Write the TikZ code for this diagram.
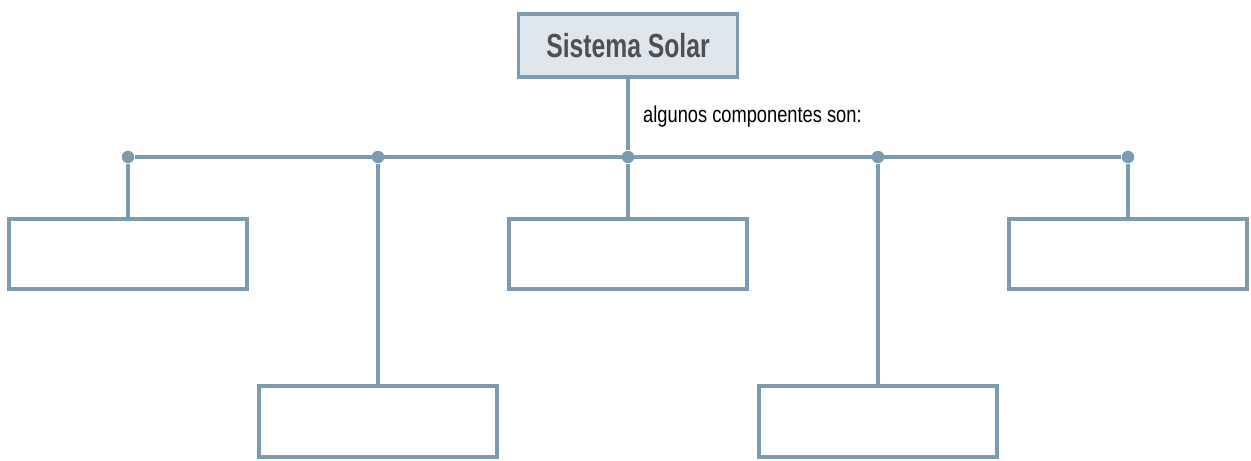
\documentclass[tikz,border=0pt]{standalone}
\usepackage{fontspec}
\setmainfont{Liberation Sans}
\newfontfamily\condfont[FakeStretch=0.8]{Liberation Sans}
\newfontfamily\titfont[FakeStretch=0.74]{Liberation Sans}
\definecolor{linea}{HTML}{7B9BB0}
\definecolor{fondo}{HTML}{DFE6EC}
\definecolor{texto}{HTML}{505050}
\tikzset{caja/.style={draw=linea,line width=2.1pt,minimum width=4.76cm,minimum height=1.41cm,inner sep=0pt},
punto/.style={circle,fill=linea,inner sep=0pt,minimum size=.25cm},
conector/.style={draw=linea,line width=2.1pt}}
\begin{document}
\begin{tikzpicture}
\useasboundingbox(0,0)rectangle(25.02,9.2);
\node[caja,fill=fondo,minimum width=4.38cm,minimum height=1.27cm,font=\titfont\bfseries\fontsize{19}{22}\selectfont,text=texto](sol)at(12.56,8.29){Sistema Solar};
% bus
\foreach\i/\x in{1/2.56,2/7.56,3/12.56,4/17.56,5/22.56}\node[punto](d\i)at(\x,6.06){};
\draw[conector](d1)--(d5);
\draw[conector](sol)--(d3)node[pos=.52,right=1.5mm,text=black,font=\condfont\fontsize{13}{15}\selectfont]{algunos componentes son:};
% cajas
\foreach\i/\y in{1/4.12,3/4.12,5/4.12,2/.77,4/.77}{
\node[caja](c\i)at(d\i|-0,\y){};
\draw[conector](d\i)--(c\i);}
\end{tikzpicture}
\end{document}
